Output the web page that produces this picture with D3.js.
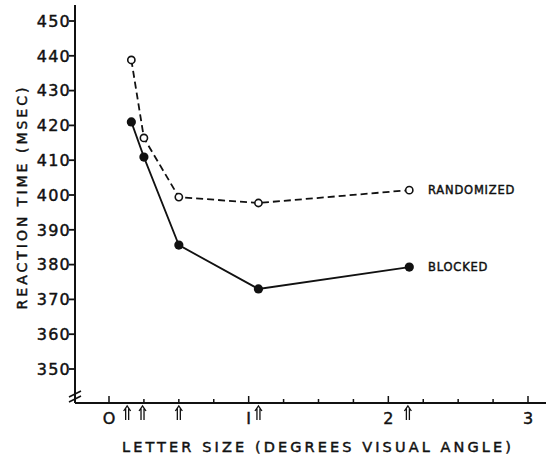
<!DOCTYPE html>
<html>
<head>
<meta charset="utf-8">
<script src="https://cdn.jsdelivr.net/npm/d3@7"></script>
<style>
  body { margin: 0; background: #fff; }
  svg { display: block; }
  text { font-family: "DejaVu Sans", sans-serif; fill: #111; stroke: #111; stroke-width: 0.45px; }
</style>
</head>
<body>
<svg id="svg" width="549" height="457"></svg>
<script>
// letter sizes (degrees visual angle) where the points sit
const sizes = [0.16, 0.25, 0.5, 1.07, 2.15]
// arrows under the x axis
const arrowSizes = [0.13, 0.24, 0.5, 1.07, 2.14]
const randomized = [438.8, 416.4, 399.4, 397.7, 401.4]
const blocked = [421, 410.9, 385.6, 373, 379.3]
const yTicks = [350, 360, 370, 380, 390, 400, 410, 420, 430, 440, 450]
const xTicks = [0, 1, 2, 3]
const xTickLabels = ['O', 'I', '2', '3']

const svg = d3.select('#svg')

const x = d3.scaleLinear().domain([0, 3]).range([109, 528])
const y = d3.scaleLinear().domain([350, 450]).range([369, 21])

const axisY = 403
const axisX = 75

// y axis
svg.append('line')
  .attr('x1', axisX).attr('x2', axisX)
  .attr('y1', 5).attr('y2', axisY)
  .attr('stroke', '#111').attr('stroke-width', 2)

svg.selectAll('.ytick')
  .data(yTicks)
  .join('line')
  .attr('x1', axisX - 6).attr('x2', axisX)
  .attr('y1', d => y(d)).attr('y2', d => y(d))
  .attr('stroke', '#111').attr('stroke-width', 1.8)

svg.selectAll('.ylab')
  .data(yTicks)
  .join('text')
  .attr('x', 71)
  .attr('y', d => y(d))
  .attr('dy', '0.36em')
  .attr('text-anchor', 'end')
  .style('font-size', '16px')
  .style('letter-spacing', '1.2px')
  .text(d => d)

// axis break
svg.selectAll('.brk')
  .data([0, 5])
  .join('line')
  .attr('x1', 69).attr('x2', 81)
  .attr('y1', d => 397 + d).attr('y2', d => 391 + d)
  .attr('stroke', '#111').attr('stroke-width', 1.6)

// x axis
svg.append('line')
  .attr('x1', axisX).attr('x2', 546)
  .attr('y1', axisY).attr('y2', axisY)
  .attr('stroke', '#111').attr('stroke-width', 2)

const minor = d3.range(0, 3.01, 0.25)
svg.selectAll('.xtick')
  .data(minor)
  .join('line')
  .attr('x1', d => x(d)).attr('x2', d => x(d))
  .attr('y1', d => Number.isInteger(d) ? axisY - 7 : axisY - 4)
  .attr('y2', axisY)
  .attr('stroke', '#111').attr('stroke-width', 1.5)

svg.selectAll('.xlab')
  .data(xTicks)
  .join('text')
  .attr('x', d => x(d))
  .attr('y', 424)
  .attr('text-anchor', 'middle')
  .style('font-size', '16px')
  .text((d, i) => xTickLabels[i])

// double-shaft arrows
const arrow = svg.selectAll('.arrow')
  .data(arrowSizes)
  .join('g')
  .attr('transform', d => `translate(${x(d)}, 406)`)

arrow.append('path')
  .attr('d', 'M-3.5,5 L0,0 L3.5,5 M-1.5,2.5 V14 M1.5,2.5 V14')
  .attr('fill', 'none')
  .attr('stroke', '#111')
  .attr('stroke-width', 1.3)

// axis titles
svg.append('text')
  .attr('x', 318)
  .attr('y', 452)
  .attr('text-anchor', 'middle')
  .style('font-size', '14.5px')
  .style('letter-spacing', '3.1px')
  .text('LETTER SIZE (DEGREES VISUAL ANGLE)')

svg.append('text')
  .attr('transform', 'translate(27, 197) rotate(-90)')
  .attr('text-anchor', 'middle')
  .style('font-size', '14px')
  .style('letter-spacing', '3px')
  .text('REACTION TIME (MSEC)')

// lines
const line = d3.line()
  .x((d, i) => x(sizes[i]))
  .y(d => y(d))

svg.append('path')
  .datum(randomized)
  .attr('d', line)
  .attr('fill', 'none')
  .attr('stroke', '#111')
  .attr('stroke-width', 1.8)
  .attr('stroke-dasharray', '7,4')

svg.append('path')
  .datum(blocked)
  .attr('d', line)
  .attr('fill', 'none')
  .attr('stroke', '#111')
  .attr('stroke-width', 1.8)

svg.selectAll('.rnd')
  .data(randomized)
  .join('circle')
  .attr('cx', (d, i) => x(sizes[i]))
  .attr('cy', d => y(d))
  .attr('r', 3.6)
  .attr('fill', '#fff')
  .attr('stroke', '#111')
  .attr('stroke-width', 1.6)

svg.selectAll('.blk')
  .data(blocked)
  .join('circle')
  .attr('cx', (d, i) => x(sizes[i]))
  .attr('cy', d => y(d))
  .attr('r', 4.6)
  .attr('fill', '#111')

// series labels
svg.append('text')
  .attr('x', 428)
  .attr('y', y(randomized[4]))
  .attr('dy', '0.36em')
  .style('font-size', '11.5px')
  .style('letter-spacing', '0.8px')
  .text('RANDOMIZED')

svg.append('text')
  .attr('x', 428)
  .attr('y', y(blocked[4]))
  .attr('dy', '0.36em')
  .style('font-size', '11.5px')
  .style('letter-spacing', '0.8px')
  .text('BLOCKED')
</script>
</body>
</html>
